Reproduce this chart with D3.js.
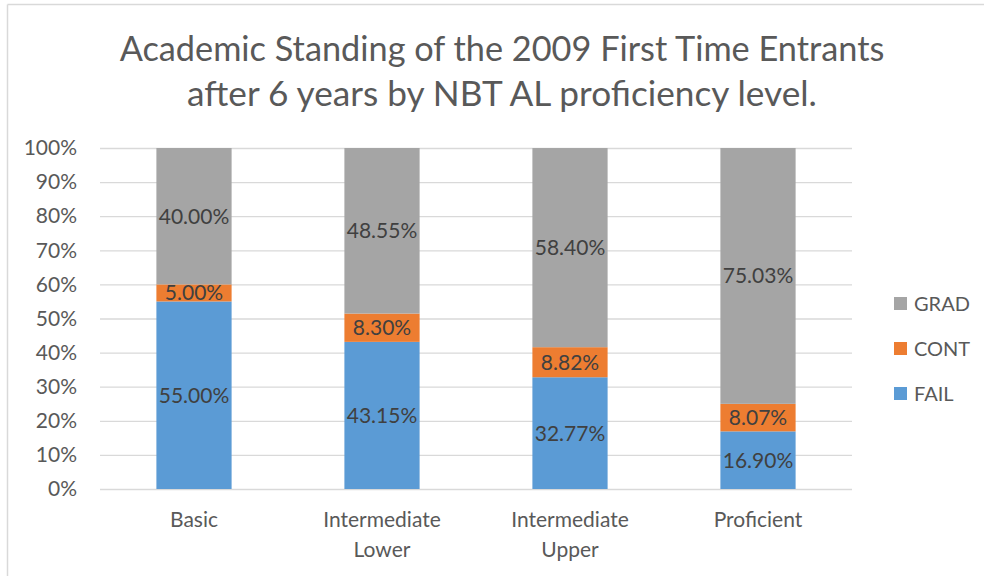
<!DOCTYPE html>
<html><head><meta charset="utf-8">
<script src="https://cdn.jsdelivr.net/npm/d3@7"></script>
<style>body{margin:0;background:#fff}svg{display:block}</style>
</head><body>
<svg id="c" width="984" height="576"></svg>
<script>
const categories = [["Basic"], ["Intermediate","Lower"], ["Intermediate","Upper"], ["Proficient"]];
const catKeys = ["Basic","Intermediate Lower","Intermediate Upper","Proficient"];
const seriesNames = ["FAIL","CONT","GRAD"];
const failValues = [55.00, 43.15, 32.77, 16.90];
const contValues = [5.00, 8.30, 8.82, 8.07];
const gradValues = [40.00, 48.55, 58.40, 75.03];
const colors = ["#5B9BD5","#ED7D31","#A5A5A5"];
const yTicks = [0,10,20,30,40,50,60,70,80,90,100];
const titleLines = ["Academic Standing of the 2009 First Time Entrants","after 6 years by NBT AL proficiency level."];

const font = "Lato, 'Open Sans', sans-serif";
const svg = d3.select("#c");

// chart border (top and left visible)
svg.append("line").attr("x1",7.5).attr("x2",984).attr("y1",4.5).attr("y2",4.5).attr("stroke","#d9d9d9").attr("stroke-width",1.5);
svg.append("line").attr("x1",7.5).attr("x2",7.5).attr("y1",4.5).attr("y2",576).attr("stroke","#d9d9d9").attr("stroke-width",1.5);

// title
const titleTargets = [765, 630];
const tg = svg.append("g");
titleLines.forEach((t,i)=>{
  const el = tg.append("text").attr("x",502).attr("y",[61,106][i]).attr("text-anchor","middle")
    .attr("font-family",font).attr("font-size",31).attr("fill","#595959").text(t);
  const w = el.node().getComputedTextLength();
  el.attr("font-size", 31*titleTargets[i]/w);
});

const x = d3.scaleBand().domain(catKeys).range([100,852]).paddingInner(0.6).paddingOuter(0.3);
const y = d3.scaleLinear().domain([0,100]).range([489,148]);

// gridlines
svg.append("g").selectAll("line").data(yTicks).join("line")
  .attr("x1",100).attr("x2",852).attr("y1",d=>y(d)+0.5).attr("y2",d=>y(d)+0.5)
  .attr("stroke","#d9d9d9").attr("stroke-width",1.3);

// y axis
const yAxis = d3.axisLeft(y).tickValues(yTicks).tickFormat(d=>d+"%").tickSize(0).tickPadding(0);
const yg = svg.append("g").attr("transform","translate(77,0)").call(yAxis);
yg.select(".domain").remove();
yg.selectAll("text").attr("font-family",font).attr("font-size",21).attr("fill","#595959");

// stack
const data = catKeys.map((k,i)=>({key:k, FAIL:failValues[i], CONT:contValues[i], GRAD:gradValues[i]}));
const stack = d3.stack().keys(seriesNames)(data);

const layers = svg.append("g").selectAll("g").data(stack).join("g").attr("fill",(d,i)=>colors[i]);
layers.selectAll("rect").data(d=>d).join("rect")
  .attr("x",d=>x(d.data.key)).attr("width",x.bandwidth())
  .attr("y",d=>y(d[1])).attr("height",d=>y(d[0])-y(d[1]));

// data labels
const lg = svg.append("g");
stack.forEach((s)=>{
  s.forEach(d=>{
    lg.append("text").attr("x",x(d.data.key)+x.bandwidth()/2).attr("y",y((d[0]+d[1])/2))
      .attr("dy","0.36em").attr("text-anchor","middle").attr("font-family",font)
      .attr("font-size",21).attr("fill","#404040").text((d[1]-d[0]).toFixed(2)+"%");
  });
});

// x axis labels
const xg = svg.append("g");
catKeys.forEach((k,i)=>{
  const t = xg.append("text").attr("x",x(k)+x.bandwidth()/2).attr("y",527).attr("text-anchor","middle")
    .attr("font-family",font).attr("font-size",21).attr("fill","#595959");
  categories[i].forEach((line,j)=>{
    t.append("tspan").attr("x",x(k)+x.bandwidth()/2).attr("dy",j===0?0:30).text(line);
  });
});

// legend
const legOrder = ["GRAD","CONT","FAIL"];
const lgd = svg.append("g");
legOrder.forEach((n,i)=>{
  const cy = 304 + i*45;
  lgd.append("rect").attr("x",894).attr("y",cy-7).attr("width",13).attr("height",13).attr("fill",colors[seriesNames.indexOf(n)]);
  lgd.append("text").attr("x",914).attr("y",cy).attr("dy","0.36em").attr("font-family",font)
    .attr("font-size",20).attr("fill","#595959").text(n);
});
</script>
</body></html>
